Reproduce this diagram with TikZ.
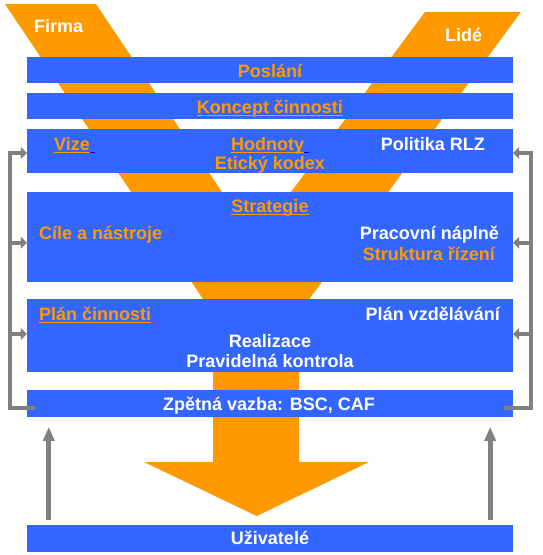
\documentclass[tikz,border=0pt]{standalone}
\usepackage{fontspec}
\setmainfont{Liberation Sans}
\usetikzlibrary{arrows.meta}
\definecolor{barblue}{HTML}{3366FF}
\definecolor{fgorange}{HTML}{FF9900}
\definecolor{linegray}{HTML}{808080}
\definecolor{linkblue}{HTML}{0000CC}
\newcommand{\uln}[1]{\setbox0\hbox{#1}\rlap{\rule[-3pt]{\wd0}{1.4pt}}\box0}
\newcommand{\ulgap}{{\color{linkblue}\rule[-3pt]{5pt}{1.4pt}}}

\begin{document}
\begin{tikzpicture}[x=1pt, y=-1pt,
    bar/.style={fill=barblue, minimum width=486pt, inner sep=0pt},
    lbl/.style={font=\bfseries\fontsize{18}{22}\selectfont, inner sep=0pt, anchor=base},
    wt/.style={lbl, text=white},
    og/.style={lbl, text=fgorange},
    loopline/.style={draw=linegray, line width=4pt},
    fbarrow/.style={loopline, -{Triangle[length=6pt, width=12pt]}},
    uparrow/.style={draw=linegray, line width=5pt, -{Triangle[length=14pt, width=11pt]}}]
    \useasboundingbox (0,0) rectangle (542,555);
    % Funnel
    \fill[fgorange] (5,4) -- (96,4) -- (254.7,240.8) -- (425,12) -- (521,12) -- (299,313)
        -- (299,462) -- (369,462) -- (256.7,516) -- (144,462) -- (213,462) -- (213,314) -- cycle;
    % Bars
    \node[bar, minimum height=26pt] (posl) at (270,70) {};
    \node[bar, minimum height=26pt] (konc) at (270,106) {};
    \node[bar, minimum height=44pt] (hod) at (270,151) {};
    \node[bar, minimum height=90pt] (strat) at (270,237) {};
    \node[bar, minimum height=72.4pt] (plan) at (270,335.5) {};
    \node[bar, minimum height=26.7pt] (zpv) at (270,403.3) {};
    \node[bar, minimum height=26.7pt] (uziv) at (270,538.3) {};
    % Labels
    \node[wt, anchor=base west] (firma) at (34,32) {Firma};
    \node[wt, anchor=base west] (lide) at (445,41) {Lidé};
    \node[og] (poslT) at (270,77) {Poslání};
    \node[og] (koncT) at (270,113) {\uln{Koncept činnosti}};
    \node[og, anchor=base west] (vize) at (54,150) {\uln{Vize}\ulgap};
    \node[og, anchor=base west] (hodT) at (231,150) {\uln{Hodnoty}\ulgap};
    \node[wt, anchor=base east] (rlz) at (485,150) {Politika RLZ};
    \node[og] (etik) at (270,169) {Etický kodex};
    \node[og] (stratT) at (270,212) {\uln{Strategie}};
    \node[og, anchor=base west] (cile) at (39,239) {Cíle a nástroje};
    \node[wt, anchor=base east] (napl) at (499,239) {Pracovní náplně};
    \node[og, anchor=base east] (strukt) at (495,260) {Struktura řízení};
    \node[og, anchor=base west] (planT) at (39,320) {\uln{Plán činnosti}};
    \node[wt, anchor=base east] (vzdel) at (500,320) {Plán vzdělávání};
    \node[wt] (real) at (270,347) {Realizace};
    \node[wt] (kontr) at (270,367) {Pravidelná kontrola};
    \node[wt] (zpvT) at (269,410) {Zpětná vazba: BSC, CAF};
    \node[wt] (uzivT) at (270,544) {Uživatelé};
    % Arrows
    \coordinate (fbl) at (35,408);
    \coordinate (fbr) at (504,408);
    \coordinate (hodl) at ([yshift=-2pt]hod.west);
    \coordinate (hodr) at ([yshift=-2pt]hod.east);
    \coordinate (stratl) at ([yshift=-5.7pt]strat.west);
    \coordinate (stratr) at ([yshift=-5.7pt]strat.east);
    \coordinate (planl) at ([yshift=1.5pt]plan.west);
    \coordinate (planr) at ([yshift=1.5pt]plan.east);
    \draw[fbarrow] (fbl) -- ++(-25.5,0) coordinate (cl) |- (hodl);
    \draw[fbarrow] (cl |- stratl) -- (stratl);
    \draw[fbarrow] (cl |- planl) -- (planl);
    \draw[fbarrow] (fbr) -- ++(27,0) coordinate (cr) |- (hodr);
    \draw[fbarrow] (cr |- stratr) -- (stratr);
    \draw[fbarrow] (cr |- planr) -- (planr);
    \draw[uparrow] ([xshift=22pt, yshift=5pt]uziv.north west) -- ([xshift=22pt, yshift=-10pt]zpv.south west);
    \draw[uparrow] ([xshift=-23pt, yshift=5pt]uziv.north east) -- ([xshift=-23pt, yshift=-10pt]zpv.south east);
\end{tikzpicture}
\end{document}
